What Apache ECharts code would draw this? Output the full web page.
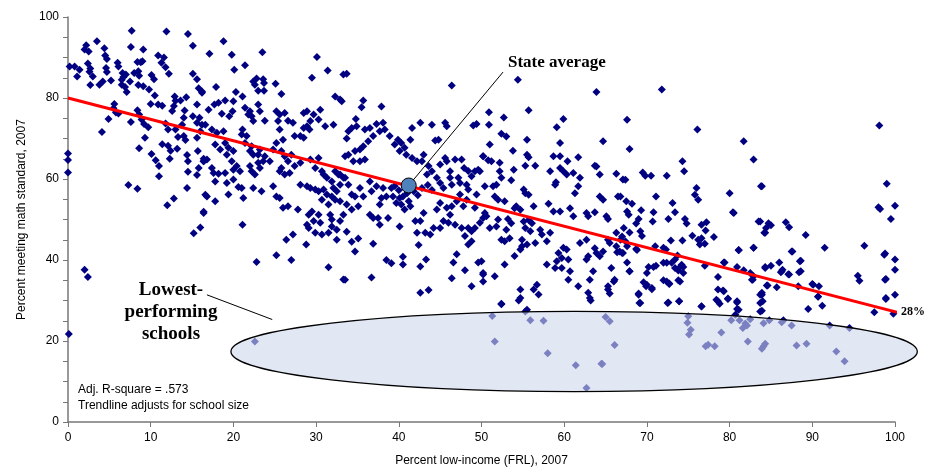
<!DOCTYPE html>
<html><head><meta charset="utf-8">
<script src="https://cdn.jsdelivr.net/npm/echarts@6/dist/echarts.min.js"></script>
<style>html,body{margin:0;padding:0;background:#fff}#c{width:933px;height:472px}</style>
</head><body><div id="c"></div>
<script>
// x: percent low-income (FRL), y: percent meeting math standard
const bandA=[[7.7,96.6],[11.9,96.4],[14.5,95.8],[3.5,94],[2.2,93],[2.0,92],[2.5,91.5],[4.4,92.3],[7.6,92.6],[9.1,92],[15.1,92.9],[4.5,90.5],[4.7,89.6],[2.4,88.5],[0.2,87.8],[0.8,87.8],[1.4,87],[1.1,85.3],[2.7,87.3],[2.6,86.5],[3.0,85.3],[4.6,87.4],[4.7,86.4],[6.0,88.7],[6.1,87.8],[6.6,86.2],[6.7,85.2],[6.5,84.5],[7.0,85.8],[8.0,86.2],[8.5,86.6],[8.6,85.5],[8.8,88.8],[8.4,88.9],[9.0,89.1],[2.7,83.2],[3.8,83.3],[4.2,84.1],[5.2,84.3],[6.5,83.3],[6.9,82.7],[7.1,81.5],[7.5,84.1],[8.5,83.2],[9.1,82.9],[9.8,82.1],[10.1,85.7],[10.4,84.6],[10.9,90.5],[11.6,90],[11.3,88.7],[11.8,87.6],[12.2,86],[10.5,80.6],[10.0,78.5],[10.9,78.4],[11.4,78.1],[12.9,80.4],[13.0,79.3],[12.8,78],[12.6,76.8],[5.6,78.5],[5.5,77.5],[5.8,76.4],[6.1,76.2],[4.9,74.8],[4.1,71.6],[7.6,74.1],[8.4,77],[8.6,75.9],[8.9,74.7],[9.2,73.6],[9.7,72.8],[9.3,70.2],[8.6,67.6],[10.1,66.2],[10.6,64.6],[11.0,63.2],[11.0,60.7],[11.4,68.6],[12.1,68.2],[12.4,67],[12.3,65],[13.2,67.5],[13.3,70.4],[13.0,72.2],[12.1,72.2],[11.8,73.7],[14.0,70.6],[14.2,69.6],[14.4,65.9],[14.5,64.4],[14.5,61.8],[13.8,73.4],[14.0,75.1],[14.1,76.9],[13.6,79.4],[14.3,80.2],[15.1,86.0],[15.6,84.6],[15.8,82.4],[16.2,81.6],[15.6,78.4],[15.1,75.5],[15.6,73.9],[15.9,75.1],[16.2,73.4],[15.6,70.2],[15.7,66.9],[16.4,65],[16.4,64.4],[15.8,62.7],[15.6,61],[14.4,57.8],[16.6,56.1],[12.8,55.2],[12.0,53.5],[7.3,58.5],[8.4,57.6],[16.4,51.9],[16.0,48],[15.2,46.6],[2.0,37.6],[2.4,35.8],[0.0,66.3],[0.0,64.7],[0.0,61.6],[0.1,21.7]];
const bandB=[[18.8,94.0],[17.1,90.9],[19.8,90.7],[23.5,91.3],[21.4,88.1],[20.1,87.0],[30.1,90.1],[31.4,86.8],[29.5,85.0],[22.4,84.1],[22.8,84.8],[23.6,84.6],[23.7,83.7],[22.6,83.3],[23.0,81.8],[23.7,81.8],[25.1,83.5],[17.9,82.7],[16.2,81.3],[25.8,81.0],[20.3,81.5],[21.1,80.4],[20.0,79.2],[19.0,79.4],[18.2,78.8],[17.7,78.4],[17.0,77.1],[18.6,76.1],[19.9,76.7],[19.5,75.5],[21.4,77.6],[22.0,76.7],[22.2,75.5],[21.8,75.9],[22.4,74.3],[23.0,78.4],[23.2,76.7],[23.8,74.4],[25.2,76.7],[25.6,75.9],[26.2,76.3],[25.4,74.3],[26.6,74.4],[25.6,72.2],[26.0,69.7],[27.2,73.9],[28.5,76.3],[28.9,76.7],[29.7,75.9],[29.3,74.3],[30.3,74.7],[28.5,72.6],[28.9,73.0],[29.2,72.2],[28.1,70.6],[27.4,70.6],[28.5,70.2],[30.5,77.1],[31.1,73.0],[32.1,73.4],[32.3,80.4],[32.9,79.6],[33.3,85.8],[21.1,72.2],[21.0,71.0],[21.6,70.6],[16.0,71.8],[16.6,73.4],[17.4,72.2],[18.0,71.4],[18.8,71.8],[19.0,68.9],[17.8,68.5],[18.4,67.3],[19.4,67.7],[20.0,66.9],[19.2,66.0],[19.8,64.4],[20.4,63.2],[20.0,62.3],[20.8,61.9],[19.0,61.5],[18.2,61.3],[17.8,59.4],[17.6,61.5],[17.4,62.7],[16.8,64.8],[16.4,64.4],[21.4,68.9],[22.2,68.1],[22.0,66.9],[22.4,66.0],[23.2,67.3],[23.0,66.0],[23.8,65.6],[24.4,64.4],[23.6,64.4],[23.2,62.7],[23.0,64.0],[22.0,63.2],[22.2,61.9],[22.6,61.1],[25.2,68.9],[24.8,67.3],[25.8,66.9],[26.2,65.6],[26.6,64.4],[25.8,62.7],[25.6,61.9],[26.2,61.1],[26.8,61.5],[27.4,63.2],[28.1,64.0],[27.0,66.0],[29.3,64.8],[30.3,65.2],[29.9,62.7],[30.7,61.9],[30.9,61.1],[31.3,60.3],[31.9,59.4],[32.1,57.8],[32.5,57.0],[32.9,58.6],[33.3,60.3],[32.7,61.1],[32.3,61.9],[28.1,58.6],[28.9,58.2],[29.3,57.8],[29.9,57.4],[30.3,57.0],[30.9,57.4],[31.3,56.2],[30.7,54.9],[31.9,55.7],[31.5,53.7],[32.9,54.5],[32.3,54.9],[19.2,59.0],[20.0,59.9],[20.6,58.0],[21.0,57.8],[22.4,57.8],[23.4,57.0],[24.8,58.2],[25.2,55.7],[25.6,55.3],[21.2,55.3],[19.4,56.2],[17.8,54.5],[16.8,55.7],[16.4,51.6],[26.0,52.9],[26.6,53.3],[27.8,52.5],[29.1,51.2],[29.5,52.0],[30.3,51.2],[30.5,49.2],[29.7,49.6],[29.1,47.9],[28.9,48.7],[29.9,46.7],[30.7,46.3],[31.7,51.2],[31.9,50.0],[32.9,49.6],[32.5,47.5],[31.9,48.3],[32.5,45.0],[31.5,46.7],[21.1,48.7],[26.4,45.0],[27.2,46.3],[28.8,43.8],[25.2,41.2],[27.0,40.0],[22.8,39.5],[31.5,38.2],[33.3,35.2]];
const bandC=[[33.7,86.0],[46.4,83.1],[33.1,79.2],[35.7,79.4],[35.5,77.7],[37.9,77.9],[34.8,74.8],[34.3,72.6],[33.9,71.8],[33.7,70.0],[34.9,73.0],[35.9,72.2],[36.5,72.6],[37.3,73.6],[38.1,73.9],[38.3,72.2],[37.7,71.8],[36.9,70.6],[36.3,69.3],[35.7,68.1],[35.3,67.3],[34.7,66.9],[33.9,66.0],[33.5,65.6],[34.5,64.4],[35.3,64.4],[35.9,64.8],[38.9,70.6],[39.5,68.5],[39.9,69.7],[40.3,68.9],[40.7,67.7],[40.1,66.9],[40.9,66.0],[41.6,65.2],[42.2,64.4],[42.8,64.4],[42.6,73.9],[41.6,72.6],[41.4,69.7],[43.0,66.0],[44.0,73.4],[44.4,69.5],[44.8,69.7],[45.6,73.9],[45.8,73.0],[45.6,65.2],[45.8,64.4],[46.8,64.8],[47.6,64.8],[46.2,61.9],[45.0,63.6],[44.0,61.9],[43.6,63.2],[43.4,61.1],[44.6,60.3],[45.0,59.0],[45.4,57.8],[46.2,60.3],[47.2,60.3],[47.4,59.0],[48.2,58.6],[48.8,60.7],[49.2,61.9],[49.6,62.3],[48.4,57.4],[47.4,56.2],[46.4,58.6],[32.9,61.1],[33.5,60.3],[33.9,58.6],[34.3,56.2],[34.7,55.7],[33.7,53.7],[33.3,51.2],[34.3,52.5],[35.1,53.3],[35.7,55.7],[35.3,57.8],[36.5,59.4],[36.7,57.0],[37.3,58.2],[38.1,57.8],[37.9,55.3],[38.5,55.7],[39.3,55.7],[39.7,54.1],[40.3,53.7],[40.7,52.5],[41.4,53.3],[41.2,54.5],[40.1,55.3],[39.1,57.8],[37.7,53.7],[37.5,50.4],[36.5,51.2],[36.9,50.4],[37.7,48.7],[38.7,50.4],[40.1,48.3],[42.0,49.6],[42.6,49.6],[42.2,46.7],[43.2,46.7],[43.8,46.3],[44.2,47.9],[45.0,47.9],[45.4,49.6],[46.2,51.2],[46.0,49.2],[46.8,48.7],[47.6,47.9],[48.4,47.9],[48.8,47.1],[49.2,47.9],[49.8,49.2],[50.2,50.4],[48.0,45.9],[48.4,43.8],[48.8,44.6],[43.0,51.6],[44.6,52.5],[45.0,54.1],[45.8,52.9],[46.4,53.3],[47.0,54.5],[47.8,53.3],[48.2,54.9],[49.2,52.9],[49.4,56.2],[42.6,31.9],[43.6,32.6],[33.5,35.1],[36.7,35.7],[48.8,33.5],[46.4,35.5],[38.5,40],[39.1,39.2],[40.5,40.8],[40.5,38.9],[36.9,44],[33.7,47],[34.3,44.5],[35.1,45.3],[34.7,42.1],[42.4,43.7],[43.3,40.1],[42.6,38.4],[46.6,39.4],[47.0,41.4],[48.0,37.5],[49.6,39.4],[50.2,36.8],[49.4,73.6],[49.0,73.2],[50.2,65.6],[47.9,62.7],[48.4,62.0],[40.5,55.7],[41.0,56.5],[41.8,57.0],[42.3,56.0],[40.0,57.2],[39.5,58.3],[42.8,57.8],[43.5,58.5],[44.0,57.3]];
const bandD=[[54.4,84.5],[63.9,81.5],[55.7,77.0],[50.9,76.5],[52.7,75.2],[50.9,73.4],[59.9,74.8],[59.1,72.8],[52.4,71.2],[53.0,70.5],[55.5,69.7],[51.0,68.5],[59.5,68.9],[64.7,69.3],[53.8,67.0],[55.5,66.0],[55.7,65.4],[58.7,65.6],[59.5,65.6],[60.4,64.4],[61.7,65.4],[63.7,63.3],[63.9,63.1],[66.3,61.3],[50.2,65.6],[50.8,64.6],[51.2,64.4],[52.2,64.0],[53.9,62.3],[55.3,63.3],[56.5,63.3],[58.3,61.9],[59.5,62.7],[59.9,61.9],[60.3,61.1],[61.1,61.5],[61.9,60.3],[64.3,61.1],[49.8,61.9],[52.2,61.9],[52.4,60.3],[50.4,58.2],[51.4,58.2],[51.8,58.6],[53.6,59.7],[55.1,57.4],[55.3,56.5],[55.7,56.1],[58.9,58.6],[59.0,59.2],[61.3,56.5],[61.7,58.2],[64.3,55.7],[64.7,54.9],[66.5,55.7],[67.1,59.9],[51.6,55.7],[52.0,54.9],[52.8,54.5],[54.2,53.3],[54.0,52.8],[54.7,52.4],[56.3,53.3],[58.1,53.9],[58.7,52.0],[59.5,52.0],[60.7,52.8],[61.1,50.8],[62.7,51.6],[62.9,50.8],[63.7,51.8],[65.1,50.8],[65.3,50.1],[66.3,46.7],[50.4,51.6],[50.6,50.8],[51.0,47.9],[51.8,48.3],[52.0,50.0],[53.2,50.1],[53.6,49.1],[53.0,47.5],[52.4,45.0],[52.8,44.6],[53.4,45.4],[55.1,49.5],[55.7,49.9],[56.1,49.1],[55.3,47.9],[55.9,47.1],[57.1,47.5],[57.3,46.3],[58.3,46.7],[56.5,44.2],[55.5,43.8],[54.9,45.0],[54.9,43.4],[54.7,42.6],[54.0,41.0],[52.8,38.9],[57.9,44.6],[59.9,43.0],[59.3,41.7],[59.7,40.5],[60.3,42.6],[60.5,40.1],[61.9,44.2],[62.7,45.0],[62.9,40.9],[62.7,40.1],[63.7,42.9],[63.9,41.7],[64.3,40.9],[64.7,42.1],[66.3,43.4],[66.7,42.1],[65.7,38.0],[66.1,35.1],[65.3,33.5],[65.3,32.7],[63.5,37.2],[63.1,35.1],[62.9,31.9],[63.1,30.6],[61.7,33.5],[60.5,35.1],[60.7,37.2],[59.7,38.0],[58.9,38.0],[59.1,39.7],[57.9,38.9],[56.7,33.9],[56.3,32.7],[56.9,31.5],[54.7,32.7],[54.7,30.6],[55.5,27.7],[52.4,29.1],[51.6,36.0],[50.2,36.4],[50.2,34.7],[50.0,39.7],[52.4,29.2],[54.5,30.0],[55.3,27.3],[63.2,30.0]];
const bandE=[[71.8,82.1],[67.6,74.6],[76.1,72.2],[67.9,67.4],[81.7,69.3],[82.9,64.8],[74.3,64.4],[74.5,61.9],[69.5,61.6],[69.8,60.8],[70.5,60.8],[72.4,60.8],[67.4,59.8],[76.0,57.8],[75.8,56.1],[76.2,54.9],[80.0,56.5],[83.8,58.2],[66.8,55.7],[71.1,55.7],[67.5,54.5],[68.2,53.9],[73.1,54.1],[67.6,52.0],[67.8,51.2],[69.3,52.3],[70.8,51.8],[73.4,51.8],[80.5,51.6],[69.0,50.1],[68.7,49.0],[70.7,49.5],[72.6,50.1],[74.6,50.1],[74.8,49.0],[76.6,48.7],[77.2,49.3],[83.5,49.5],[67.2,47.9],[67.9,46.8],[69.2,47.1],[69.4,45.9],[77.1,47.3],[78.1,45.7],[66.8,45.0],[67.4,44.6],[68.7,42.7],[71.0,43.4],[72.0,43.0],[72.9,44.8],[74.3,44.8],[75.5,46.0],[76.2,45.0],[76.4,43.8],[77.0,44.0],[76.6,45.4],[81.1,42.4],[82.9,43.0],[67.0,41.7],[67.6,39.4],[67.9,37.2],[72.3,42.6],[72.4,39.3],[73.4,40.1],[73.7,41.1],[73.9,38.0],[74.4,38.3],[73.4,38.0],[74.4,36.8],[73.8,35.0],[70.2,38.3],[70.8,38.3],[71.1,38.6],[70.0,36.8],[72.0,35.0],[72.7,34.2],[69.6,34.5],[69.9,33.5],[70.6,32.8],[69.0,31.7],[69.2,29.4],[72.6,29.5],[73.9,29.8],[76.6,28.5],[77.0,38.6],[78.6,35.8],[78.6,32.7],[79.2,32.5],[79.8,30.5],[78.4,30.2],[78.8,29.2],[80.9,29.5],[81.1,27.7],[82.8,35.1],[83.7,31.4],[83.7,27.3],[79.4,39.4],[80.9,38.3],[81.7,37.5],[82.5,36.8]];
const bandF=[[98.1,73.2],[99.0,58.8],[98.0,53.0],[98.2,52.6],[100.0,53.4],[99.5,50.1],[83.9,58.2],[83.7,49.5],[84.7,49.1],[84.4,47.9],[84.2,46.7],[86.8,49.3],[87.2,48.1],[89.2,46.2],[87.6,42.1],[91.5,43.0],[96.3,43.5],[98.7,41.3],[100.0,40.1],[100.0,37.6],[86.0,39.4],[85.0,38.6],[84.3,38.3],[88.6,39.8],[88.4,37.0],[86.2,37.0],[86.4,37.6],[87.1,36.5],[84.6,33.7],[85.7,33.3],[88.3,33.5],[90.0,34.1],[90.8,33.5],[95.5,36.1],[95.7,34.9],[98.9,35.3],[90.7,31.0],[91.2,28.7],[89.5,27.9],[98.9,30.6],[100.0,31.4],[97.5,27.1],[99.8,26.7],[83.9,31.9],[84.0,29.8],[83.9,27.5],[80.4,51.8],[84.3,46.7],[85.0,48.6],[82.9,43.0],[81.1,42.5],[79.3,39.4],[87.5,42.1],[88.5,39.7],[88.6,37.2],[84.3,38.0],[86.3,37.2],[87.2,36.4],[84.5,33.7],[90.1,33.9],[90.7,30.9],[98.8,41.6],[98.8,35.1],[98.9,30.4],[80.9,29.8],[80.9,27.9],[80.7,26.5],[78.6,29.8],[79.3,32.3],[79.8,30.4],[76.6,28.6],[73.9,29.8],[72.5,29.4],[69.1,29.4],[65.3,45.0],[65.5,44.2],[66.4,41.9],[67.1,41.7],[67.6,43.4],[68.8,42.5],[67.0,45.8],[65.5,31.7],[66.0,34.7],[67.9,37.2],[69.0,31.4],[70.0,33.9],[70.6,33.1],[72.4,34.7],[72.7,34.1],[72.0,39.3],[73.0,39.3],[73.8,37.4],[74.0,34.7],[74.2,38.8],[83.7,29.4],[83.9,31.4],[82.7,35.1],[82.9,36.0]];
const lowBand=[[22.6,19.9],[51.3,26.2],[51.6,19.9],[55.9,25.1],[57.5,25.0],[58.0,17.0],[61.4,14.0],[64.6,14.3],[62.7,8.4],[65.0,25.9],[65.5,24.9],[66.1,19.0],[64.5,14.4],[75.0,26.1],[74.9,24.5],[75.3,22.8],[75.1,21.6],[77.1,18.7],[77.4,19.1],[78.2,18.7],[79.0,22.1],[80.2,25.1],[81.2,25.1],[81.6,23.2],[82.1,23.8],[81.9,24.3],[82.5,25.4],[82.2,19.9],[84.1,24.4],[84.8,25.1],[86.3,24.6],[86.5,25.1],[87.5,23.8],[84.1,18.7],[84.3,19.3],[83.9,18.1],[88.1,18.9],[89.3,19.3],[92.1,23.8],[94.5,23.2],[92.9,17.4],[93.9,15.0]];
const stateAvg=[[41.2,58.4]];
const trend=[[0,80],[101,26.7]];
const lowEllipse=[[61.2,17.4,41.5,9.9]]; // center x, center y, radius x, radius y
const xTicks={min:0,max:100,interval:10};
const yTicks={min:0,max:100,interval:20};

const schools=[].concat(bandA,bandB,bandC,bandD,bandE,bandF,lowBand);
const chart=echarts.init(document.getElementById('c'),null,{renderer:'canvas'});
const SANS='"Liberation Sans", Arial, sans-serif';
const SERIF='"Liberation Serif", "Times New Roman", serif';
chart.setOption({
  animation:false,
  backgroundColor:'#fff',
  grid:{left:68,right:38,top:17,bottom:50,containLabel:false},
  xAxis:{type:'value',min:xTicks.min,max:xTicks.max,interval:xTicks.interval,
    name:'Percent low-income (FRL), 2007',nameLocation:'middle',nameGap:33,
    nameTextStyle:{fontFamily:SANS,fontSize:12,color:'#000'},
    axisLine:{show:true,onZero:false,lineStyle:{color:'#777',width:1.5}},
    axisTick:{show:true,length:5,lineStyle:{color:'#777'}},
    axisLabel:{fontFamily:SANS,fontSize:12,color:'#000',margin:10},
    splitLine:{show:false}},
  yAxis:{type:'value',min:yTicks.min,max:yTicks.max,interval:yTicks.interval,
    name:'Percent meeting math standard, 2007',nameLocation:'middle',nameGap:40,
    nameTextStyle:{fontFamily:SANS,fontSize:12,color:'#000'},
    axisLine:{show:true,onZero:false,lineStyle:{color:'#777',width:1.5}},
    axisTick:{show:true,length:5,lineStyle:{color:'#777'}},
    minorTick:{show:true,splitNumber:4,length:5,lineStyle:{color:'#777',width:1}},
    axisLabel:{fontFamily:SANS,fontSize:12,color:'#000',margin:9},
    splitLine:{show:false}},
  series:[
    {type:'scatter',name:'schools',data:schools,symbol:'diamond',symbolSize:8,
      itemStyle:{color:'#000080',opacity:1},z:2,silent:true},
    {type:'line',data:trend,symbol:'none',clip:false,z:3,silent:true,
      lineStyle:{color:'#ff0000',width:3},
      endLabel:{show:true,formatter:'28%',fontFamily:SERIF,fontWeight:'bold',fontSize:12,color:'#000',distance:4}},
    {type:'custom',data:lowEllipse,z:4,silent:true,clip:false,
      renderItem:function(params,api){
        const c=api.coord([api.value(0),api.value(1)]);
        const s=api.size([api.value(2),api.value(3)]);
        return {type:'ellipse',shape:{cx:c[0],cy:c[1],rx:s[0],ry:s[1]},
          style:{fill:'rgba(205,215,235,0.6)',stroke:'#000',lineWidth:1.3}};
      }},
    {type:'scatter',data:stateAvg,symbol:'circle',symbolSize:15,z:6,silent:true,
      itemStyle:{color:'#4f81bd',borderColor:'#000',borderWidth:1,opacity:1},
      markLine:{silent:true,symbol:['none','none'],label:{show:false},animation:false,
        lineStyle:{color:'#000',width:1,type:'solid'},
        data:[[{coord:[52.6,86.4]},{coord:[41.2,58.4]}],[{coord:[16.8,31.4]},{coord:[24.7,25.3]}]]}}
  ],
  graphic:[
    {type:'text',x:508,y:54,z:10,style:{text:'State average',font:'bold 17px '+SERIF,fill:'#000'}},
    {type:'text',x:171,y:279,z:10,style:{text:'Lowest-\nperforming\nschools',font:'bold 19px '+SERIF,fill:'#000',align:'center',lineHeight:22}},
    {type:'text',x:78,y:384,z:10,style:{text:'Adj. R-square = .573',font:'12px '+SANS,fill:'#000'}},
    {type:'text',x:78,y:400,z:10,style:{text:'Trendline adjusts for school size',font:'12px '+SANS,fill:'#000'}}
  ]
});
</script></body></html>
